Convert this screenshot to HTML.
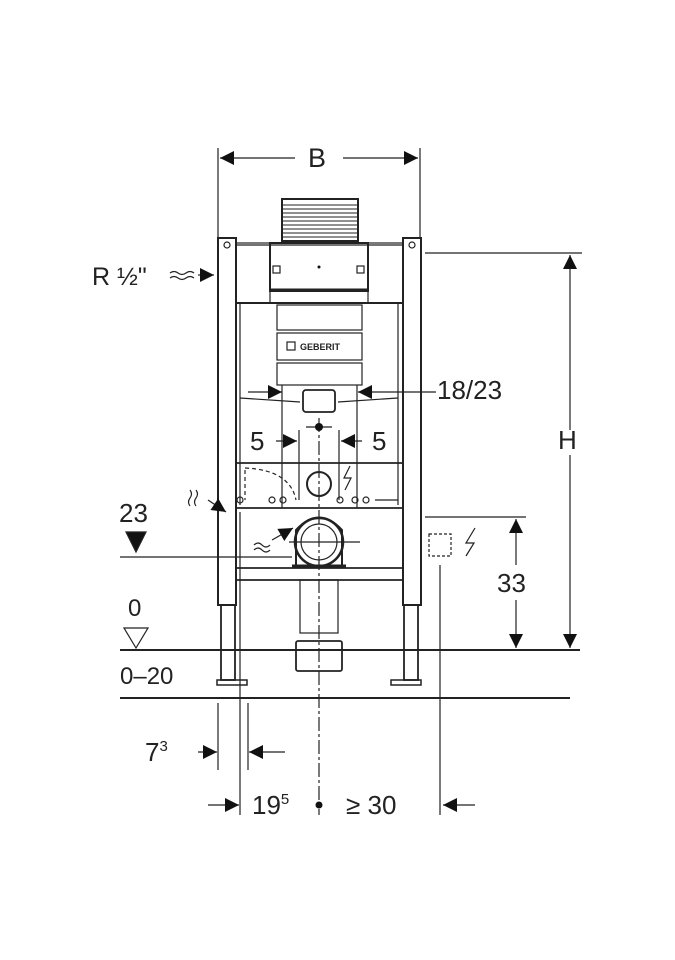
<!DOCTYPE html>
<html><head><meta charset="utf-8"><style>html,body{margin:0;padding:0;background:#fff}svg{display:block}text{font-family:"Liberation Sans",sans-serif;fill:#222}</style></head>
<body>
<svg width="675" height="960" viewBox="0 0 675 960" xmlns="http://www.w3.org/2000/svg">
<defs>
<marker id="ar" viewBox="0 0 10 10" refX="10" refY="5" markerWidth="10" markerHeight="10" markerUnits="userSpaceOnUse" orient="auto"><path d="M0,0L10,5L0,10z" fill="#111"/></marker>
<marker id="ab" viewBox="0 0 10 10" refX="10" refY="5" markerWidth="16" markerHeight="14" markerUnits="userSpaceOnUse" orient="auto"><path d="M0,0L10,5L0,10z" fill="#111"/></marker>
</defs>
<g stroke="#222" fill="none" stroke-width="1.2">
<!-- B dimension -->
<line x1="218" y1="148" x2="218" y2="238"/><line x1="420" y1="148" x2="420" y2="238"/>
<line x1="295" y1="158" x2="220" y2="158" marker-end="url(#ab)"/>
<line x1="343" y1="158" x2="418" y2="158" marker-end="url(#ab)"/>
<!-- posts -->
<rect x="218" y="238" width="18" height="367" stroke-width="2"/>
<rect x="403" y="238" width="18" height="367" stroke-width="2"/>
<rect x="221" y="605" width="14" height="75" stroke-width="1.8"/>
<rect x="404" y="605" width="14" height="75" stroke-width="1.8"/>
<rect x="217" y="680" width="30" height="5" stroke-width="1.5"/>
<rect x="391" y="680" width="30" height="5" stroke-width="1.5"/>
<circle cx="227" cy="245" r="3"/><circle cx="412" cy="245" r="3"/>
<line x1="236" y1="303" x2="403" y2="303" stroke-width="2"/>
<line x1="236" y1="245" x2="403" y2="245"/>
<line x1="240" y1="303" x2="240" y2="505"/><line x1="398" y1="303" x2="398" y2="505"/>
<!-- tank cover -->
<rect x="282" y="199" width="76" height="42" stroke-width="2"/>
<g stroke-width="1">
<line x1="282" y1="205" x2="358" y2="205"/><line x1="282" y1="209" x2="358" y2="209"/><line x1="282" y1="213" x2="358" y2="213"/><line x1="282" y1="217" x2="358" y2="217"/><line x1="282" y1="221" x2="358" y2="221"/><line x1="282" y1="225" x2="358" y2="225"/><line x1="282" y1="229" x2="358" y2="229"/><line x1="282" y1="233" x2="358" y2="233"/><line x1="282" y1="237" x2="358" y2="237"/>
</g>
<rect x="270" y="243" width="98" height="48" stroke-width="2"/>
<line x1="270" y1="290" x2="368" y2="290" stroke-width="3"/>
<rect x="273" y="266" width="7" height="7"/><rect x="357" y="266" width="7" height="7"/>
<rect x="236" y="243" width="34" height="60"/><rect x="368" y="243" width="35" height="60"/>
<!-- plates -->
<rect x="277" y="305" width="85" height="25"/>
<rect x="277" y="333" width="85" height="27"/>
<rect x="277" y="363" width="85" height="22"/>
<rect x="287" y="342" width="8" height="8"/>
<!-- flush part -->
<rect x="303" y="390" width="32" height="22" rx="3" stroke-width="1.8"/>
<line x1="240" y1="398" x2="300" y2="402"/><line x1="338" y1="402" x2="398" y2="398"/>
<!-- 18/23 -->
<line x1="248" y1="392" x2="282" y2="392" marker-end="url(#ab)"/>
<line x1="436" y1="392" x2="358" y2="392" marker-end="url(#ab)"/>
<line x1="282" y1="385" x2="282" y2="508"/><line x1="357" y1="385" x2="357" y2="508"/>
<!-- 5 arrows -->
<line x1="276" y1="441" x2="297" y2="441" marker-end="url(#ab)"/>
<line x1="362" y1="441" x2="341" y2="441" marker-end="url(#ab)"/>
<line x1="299" y1="430" x2="299" y2="500"/><line x1="339" y1="430" x2="339" y2="500"/>
<line x1="306" y1="427" x2="332" y2="427"/>
<!-- bars -->
<line x1="236" y1="463" x2="403" y2="463" stroke-width="1.8"/>
<line x1="236" y1="508" x2="403" y2="508" stroke-width="1.8"/>
<line x1="236" y1="568" x2="403" y2="568" stroke-width="1.8"/>
<line x1="236" y1="580" x2="403" y2="580" stroke-width="1.8"/>
<path d="M245 468 Q290 470 296 500" stroke-dasharray="4 3"/>
<line x1="245" y1="470" x2="245" y2="500" stroke-dasharray="4 3"/>
<circle cx="240" cy="500" r="3"/><circle cx="272" cy="500" r="3"/><circle cx="283" cy="500" r="3"/><circle cx="340" cy="500" r="3"/><circle cx="355" cy="500" r="3"/><circle cx="366" cy="500" r="3"/>
<line x1="375" y1="500" x2="398" y2="500"/>
<circle cx="319" cy="484" r="12" stroke-width="2"/>
<!-- pipe -->
<path d="M296 566 L296 530 Q319 505 342 530 L342 566" stroke-width="2"/>
<circle cx="319" cy="542" r="24" stroke-width="2.5"/>
<circle cx="319" cy="542" r="18"/>
<line x1="292" y1="566" x2="346" y2="566" stroke-width="3"/>
<line x1="289" y1="542" x2="360" y2="542"/>
<!-- drain -->
<rect x="300" y="580" width="38" height="53"/>
<rect x="296" y="641" width="46" height="30" rx="2" stroke-width="1.8"/>
<!-- floor lines -->
<line x1="120" y1="650" x2="580" y2="650" stroke-width="2"/>
<line x1="120" y1="698" x2="570" y2="698" stroke-width="2"/>
<!-- H -->
<line x1="425" y1="253" x2="582" y2="253"/>
<line x1="570" y1="430" x2="570" y2="255" marker-end="url(#ab)"/>
<line x1="570" y1="455" x2="570" y2="648" marker-end="url(#ab)"/>
<!-- 33 -->
<line x1="425" y1="517" x2="526" y2="517"/>
<line x1="516" y1="565" x2="516" y2="519" marker-end="url(#ab)"/>
<line x1="516" y1="600" x2="516" y2="648" marker-end="url(#ab)"/>
<!-- 23 -->
<line x1="120" y1="557" x2="292" y2="557"/>
<path d="M126 532 L146 532 L136 552z" fill="#111"/>
<!-- 0 -->
<path d="M124 628 L148 628 L136 648z" fill="#fff"/>
<!-- vertical ref lines -->
<line x1="218" y1="703" x2="218" y2="770"/><line x1="248" y1="703" x2="248" y2="770"/>
<line x1="240" y1="512" x2="240" y2="815"/>
<line x1="319" y1="418" x2="319" y2="815" stroke-dasharray="14 3 3 3"/>
<line x1="440" y1="565" x2="440" y2="815"/>
<line x1="198" y1="752" x2="217" y2="752" marker-end="url(#ab)"/>
<line x1="285" y1="752" x2="249" y2="752" marker-end="url(#ab)"/>
<line x1="208" y1="805" x2="239" y2="805" marker-end="url(#ab)"/>
<line x1="475" y1="805" x2="443" y2="805" marker-end="url(#ab)"/>
<!-- socket -->
<rect x="429" y="534" width="22" height="22" stroke-dasharray="3 2"/>
<path d="M475 528 L466 543 L474 543 L466 556" />
<path d="M350 466 L344 478 L351 478 L345 490"/>
<!-- water waves -->
<path d="M170 273 q4 -3 8 0 t8 0 t8 0 M170 278 q4 -3 8 0 t8 0 t8 0"/>
<line x1="198" y1="275" x2="214" y2="275" marker-end="url(#ab)"/>
<path d="M190 490 q3 4 0 8 t0 8 M196 490 q3 4 0 8 t0 8"/>
<line x1="208" y1="500" x2="226" y2="512" marker-end="url(#ab)"/>
<path d="M254 545 q4 -4 8 0 t8 0 M254 550 q4 -4 8 0 t8 0"/>
<line x1="272" y1="540" x2="293" y2="528" marker-end="url(#ab)"/>
</g>
<circle cx="319" cy="427" r="4" fill="#111"/>
<circle cx="319" cy="805" r="3.5" fill="#111"/>
<circle cx="319" cy="267" r="1.5" fill="#111"/>
<text x="308" y="167" font-size="27">B</text>
<text x="92" y="285" font-size="25">R ½"</text>
<text x="300" y="350" font-size="9" font-weight="bold" fill="#444">GEBERIT</text>
<text x="437" y="399" font-size="26">18/23</text>
<text x="250" y="450" font-size="26">5</text>
<text x="372" y="450" font-size="26">5</text>
<text x="558" y="449" font-size="26">H</text>
<text x="497" y="592" font-size="26">33</text>
<text x="119" y="522" font-size="26">23</text>
<text x="128" y="616" font-size="24">0</text>
<text x="120" y="684" font-size="24">0–20</text>
<text x="145" y="761" font-size="26">7<tspan font-size="15" dy="-10">3</tspan></text>
<text x="252" y="814" font-size="26">19<tspan font-size="15" dy="-10">5</tspan></text>
<text x="346" y="814" font-size="26">≥ 30</text>
</svg>
</body></html>
